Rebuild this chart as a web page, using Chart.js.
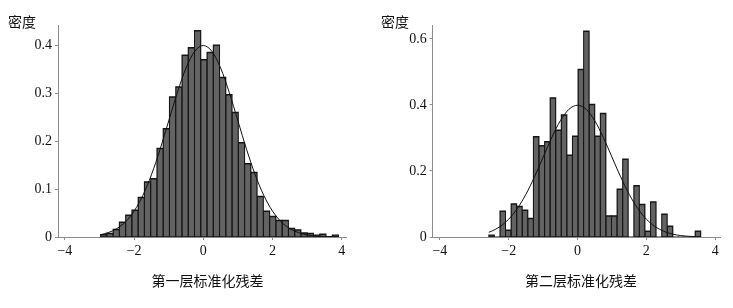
<!DOCTYPE html>
<html>
<head>
<meta charset="utf-8">
<script src="https://cdn.jsdelivr.net/npm/chart.js@4"></script>
<style>
  body { margin: 0; background: #fff; }
  #wrap { position: relative; width: 733px; height: 308px; }
  canvas { position: absolute; top: 0; }
</style>
</head>
<body>
<div id="wrap">
  <canvas id="level1" width="366" height="308" style="left:0"></canvas>
  <canvas id="level2" width="367" height="308" style="left:366px"></canvas>
</div>
<script>
// histogram bins (density)
const level1BinStart = -2.97;
const level1BinWidth = 0.181;
const level1Density = [0.005, 0.008, 0.016, 0.031, 0.046, 0.056, 0.083, 0.115, 0.122, 0.185,
  0.226, 0.292, 0.313, 0.379, 0.395, 0.43, 0.37, 0.385, 0.40, 0.333,
  0.297, 0.26, 0.197, 0.153, 0.135, 0.085, 0.054, 0.043, 0.035, 0.035,
  0.018, 0.015, 0.009, 0.008, 0.004, 0.006, 0.001, 0.004];

const level2BinStart = -2.58;
const level2BinWidth = 0.1621;
const level2Density = [0.006, 0, 0.079, 0.021, 0.101, 0.093, 0.082, 0.057, 0.304, 0.277,
  0.289, 0.422, 0.324, 0.37, 0.248, 0.306, 0.508, 0.624, 0.402, 0.306,
  0.375, 0.064, 0.064, 0.145, 0.236, 0, 0.156, 0.099, 0.018, 0.107,
  0, 0.07, 0.033, 0, 0, 0, 0, 0.018];

// normal density curve points
const level1CurveX = [-2.97, -2.75, -2.5, -2.25, -2, -1.75, -1.5, -1.25, -1, -0.75, -0.5, -0.25, 0,
  0.25, 0.5, 0.75, 1, 1.25, 1.5, 1.75, 2, 2.25, 2.5, 2.75, 3, 3.25, 3.5, 3.75, 3.87];
const level1CurveY = [0.0048, 0.0091, 0.0175, 0.0317, 0.054, 0.0863, 0.1295, 0.1826, 0.242, 0.3011, 0.3521, 0.3867, 0.3989,
  0.3867, 0.3521, 0.3011, 0.242, 0.1826, 0.1295, 0.0863, 0.054, 0.0317, 0.0175, 0.0091, 0.0044, 0.002, 0.0009, 0.0004, 0.0002];

const level2CurveX = [-2.58, -2.5, -2.25, -2, -1.75, -1.5, -1.25, -1, -0.75, -0.5, -0.25, 0,
  0.25, 0.5, 0.75, 1, 1.25, 1.5, 1.75, 2, 2.25, 2.5, 2.75, 3, 3.25, 3.5, 3.58];
const level2CurveY = [0.0143, 0.0175, 0.0317, 0.054, 0.0863, 0.1295, 0.1826, 0.242, 0.3011, 0.3521, 0.3867, 0.3989,
  0.3867, 0.3521, 0.3011, 0.242, 0.1826, 0.1295, 0.0863, 0.054, 0.0317, 0.0175, 0.0091, 0.0044, 0.002, 0.0009, 0.0007];

const xTicks = [-4, -2, 0, 2, 4];
const xTickLabels = ['\u22124', '\u22122', '0', '2', '4'];
const level1YTicks = [0, 0.1, 0.2, 0.3, 0.4];
const level1YTickLabels = ['0', '0.1', '0.2', '0.3', '0.4'];
const level2YTicks = [0, 0.2, 0.4, 0.6];
const level2YTickLabels = ['0', '0.2', '0.4', '0.6'];

const yTitle = '密度';
const level1XTitle = '第一层标准化残差';
const level2XTitle = '第二层标准化残差';

const serif = '"Liberation Serif", "Times New Roman", serif';
const cjk = '"Noto Sans CJK SC", sans-serif';
const axisGray = '#8c8c8c';
const barFill = '#636363';
const barEdge = '#161616';

const titlePlugin = {
  id: 'panelTitles',
  afterDraw(chart, args, opts) {
    const ctx = chart.ctx;
    ctx.save();
    ctx.font = '14px ' + cjk;
    ctx.fillStyle = '#111';
    ctx.textBaseline = 'middle';
    ctx.textAlign = 'left';
    ctx.fillText(opts.yText, opts.yX, 22);
    ctx.textAlign = 'center';
    ctx.fillText(opts.xText, opts.xX, 281);
    ctx.restore();
  }
};

function makePanel(id, p) {
  const bars = p.density.map((d, i) => ({ x: p.binStart + (i + 0.5) * p.binWidth, y: d }));
  const curve = p.curveX.map((x, i) => ({ x: x, y: p.curveY[i] }));

  new Chart(document.getElementById(id), {
    type: 'bar',
    data: {
      datasets: [
        {
          type: 'line',
          data: curve,
          borderColor: '#111',
          borderWidth: 1,
          pointRadius: 0,
          cubicInterpolationMode: 'monotone',
          order: 0
        },
        {
          // grey face of each bar, a bit narrower so the dark layer shows as outlines
          data: bars,
          backgroundColor: barFill,
          borderColor: barEdge,
          borderWidth: { top: 1, left: 0, right: 0, bottom: 0 },
          borderSkipped: false,
          inflateAmount: 0,
          grouped: false,
          barPercentage: p.faceRatio,
          categoryPercentage: 1,
          order: 1
        },
        {
          // dark layer behind, full bin width
          data: bars,
          backgroundColor: barEdge,
          borderWidth: 0,
          inflateAmount: 0.5,
          grouped: false,
          barPercentage: 1,
          categoryPercentage: 1,
          order: 2
        }
      ]
    },
    options: {
      responsive: false,
      animation: false,
      devicePixelRatio: 1,
      layout: { padding: { top: 25, right: p.padRight, bottom: 0, left: 0 } },
      plugins: {
        legend: { display: false },
        tooltip: { enabled: false },
        panelTitles: { yText: yTitle, yX: p.yTitleX, xText: p.xTitle, xX: p.xTitleX }
      },
      scales: {
        x: {
          type: 'linear',
          min: p.xMin,
          max: p.xMax,
          offset: false,
          afterBuildTicks: s => { s.ticks = xTicks.map(v => ({ value: v })); },
          afterFit: s => { s.height = 71; },
          ticks: {
            autoSkip: false,
            maxRotation: 0,
            padding: 3,
            color: '#111',
            font: { family: serif, size: 14 },
            callback: v => xTickLabels[xTicks.indexOf(v)]
          },
          grid: { drawOnChartArea: false, offset: false, tickLength: 3, color: axisGray },
          border: { display: true, color: axisGray, width: 1 }
        },
        y: {
          min: 0,
          max: p.yMax,
          afterBuildTicks: s => { s.ticks = p.yTicks.map(v => ({ value: v })); },
          afterFit: s => { s.width = p.yAxisWidth; },
          ticks: {
            padding: 3,
            color: '#111',
            font: { family: serif, size: 14 },
            callback: v => p.yTickLabels[p.yTicks.indexOf(v)]
          },
          grid: { drawOnChartArea: false, tickLength: 3, color: axisGray },
          border: { display: true, color: axisGray, width: 1 }
        }
      }
    },
    plugins: [titlePlugin]
  });
}

makePanel('level1', {
  binStart: level1BinStart, binWidth: level1BinWidth, density: level1Density,
  curveX: level1CurveX, curveY: level1CurveY,
  xMin: -4.2, xMax: 4.144, yMax: 0.4417,
  yTicks: level1YTicks, yTickLabels: level1YTickLabels,
  yAxisWidth: 58, padRight: 19.3, faceRatio: 0.84,
  yTitleX: 8, xTitle: level1XTitle, xTitleX: 207.5
});

makePanel('level2', {
  binStart: level2BinStart, binWidth: level2BinWidth, density: level2Density,
  curveX: level2CurveX, curveY: level2CurveY,
  xMin: -4.21, xMax: 4.14, yMax: 0.642,
  yTicks: level2YTicks, yTickLabels: level2YTickLabels,
  yAxisWidth: 66.7, padRight: 13, faceRatio: 0.82,
  yTitleX: 15, xTitle: level2XTitle, xTitleX: 215
});
</script>
</body>
</html>
